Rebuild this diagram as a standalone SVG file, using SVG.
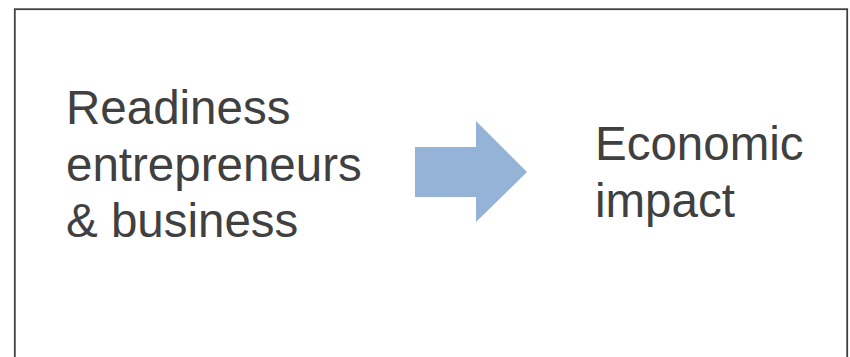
<svg xmlns="http://www.w3.org/2000/svg" width="850" height="357" viewBox="0 0 850 357">
<style>
.lbl{font-family:"Liberation Sans",Arial,sans-serif;font-size:47.5px;fill:#404040}
</style>
<rect x="0" y="0" width="850" height="357" fill="#ffffff"/>
<rect x="14.8" y="9.2" width="832.4" height="360" fill="none" stroke="#404040" stroke-width="1.8"/>
<g id="readiness">
<text class="lbl" x="66" y="124">Readiness</text>
<text class="lbl" x="66" y="180.5">entrepreneurs</text>
<text class="lbl" x="66" y="237">&amp; business</text>
</g>
<g id="connectors">
<polygon points="415,147 476,147 476,121 527,172 476,222 476,197 415,197" fill="#95B3D7"/>
</g>
<g id="impact">
<text class="lbl" x="595" y="160">Economic</text>
<text class="lbl" x="595" y="217">impact</text>
</g>
</svg>
